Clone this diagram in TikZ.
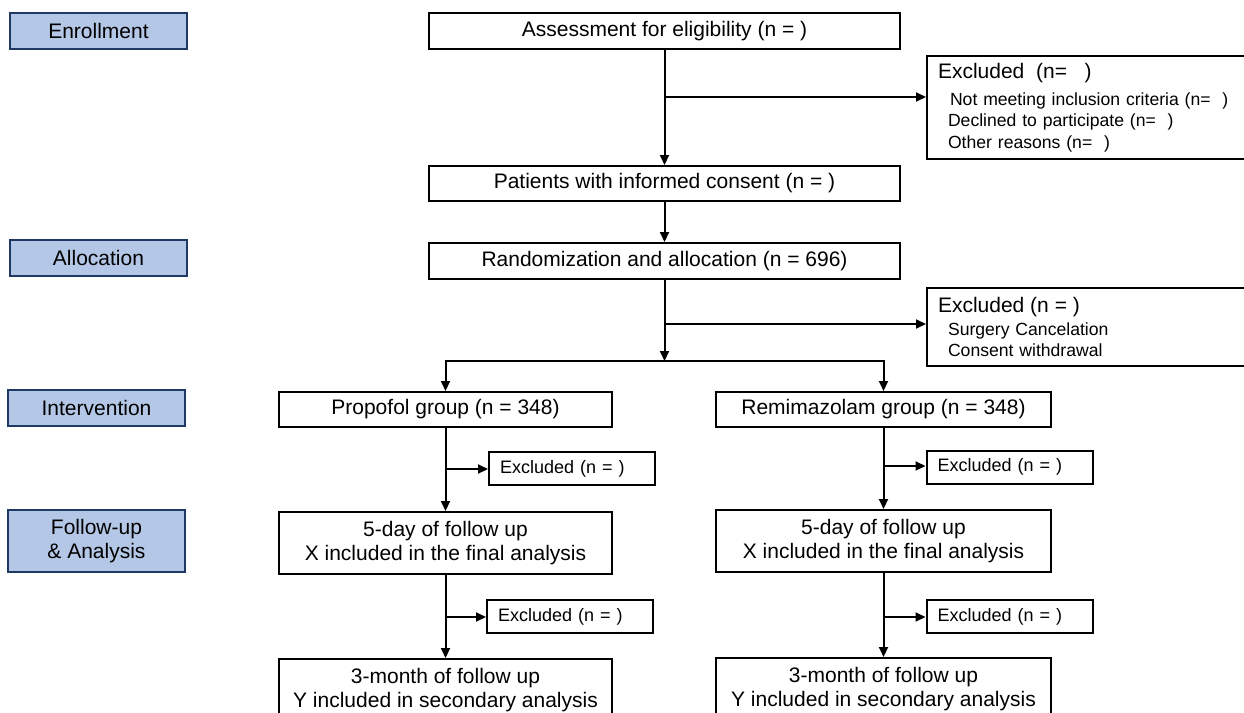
\documentclass[tikz,border=0pt]{standalone}
\usepackage{fontspec}
\setmainfont{Liberation Sans}
\usetikzlibrary{positioning, arrows.meta}

\definecolor{stagefill}{HTML}{B4C7E7}
\definecolor{stageline}{HTML}{203864}

\begin{document}
\begin{tikzpicture}[x=1pt, y=-1pt, >={Triangle[length=10pt,width=9pt]},
  font=\fontsize{21}{24}\selectfont, line width=2pt,
  box/.style={draw, inner sep=0pt, align=center},
  stage/.style={draw=stageline, fill=stagefill, line width=2.4pt, minimum width=177pt, inner sep=0pt, align=center},
  exbox/.style={draw, inner xsep=11pt, inner ysep=0pt, text width=144pt, align=left,
    minimum height=33pt, font=\fontsize{18}{21}\selectfont}]
  \useasboundingbox (0,0) rectangle (1244,712);

  % stages on the left
  \node[stage, minimum height=36pt] (enroll) at (98.5,31) {Enrollment};
  \node[stage, minimum height=36pt] (alloc) at (98.5,258) {Allocation};
  \node[stage, minimum height=36pt] (interv) at (96.5,408) {Intervention};
  \node[stage, minimum height=62pt] (follow) at (96.5,541) {Follow-up\\\& Analysis};

  % main column
  \node[box, minimum width=471pt, minimum height=36pt] (assess) at (664.5,31) {Assessment for eligibility (n = )};
  \node[box, minimum width=471pt, minimum height=35pt, below=115pt of assess] (consent) {Patients with informed consent (n = )};
  \node[box, minimum width=471pt, minimum height=36pt, below=40pt of consent] (rand) {Randomization and allocation (n = 696)};

  \node[draw, anchor=north west, minimum width=330pt, minimum height=103pt, inner xsep=11pt, inner ysep=0pt,
    text width=308pt, align=left, font=\fontsize{17.6}{21.5}\selectfont] (excl1) at (926,55)
    {{\fontsize{21}{24}\selectfont Excluded\ \ (n=\ \ \ )}\\[5.5pt]
     \hspace*{12pt}Not meeting inclusion criteria (n=\ \ )\\
     \hspace*{10pt}Declined to participate (n=\ \ )\\
     \hspace*{10pt}Other reasons (n=\ \ )};
  \node[draw, anchor=north west, minimum width=330pt, minimum height=78pt, inner xsep=11pt, inner ysep=0pt,
    text width=308pt, align=left, font=\fontsize{17.6}{21.5}\selectfont] (excl2) at (926,287)
    {{\fontsize{21}{24}\selectfont Excluded (n = )}\\[1.5pt]
     \hspace*{10pt}Surgery Cancelation\\
     \hspace*{10pt}Consent withdrawal};

  % two arms
  \node[box, minimum width=333pt, minimum height=35pt] (prop) at (445.5,409.5) {Propofol group (n = 348)};
  \node[box, minimum width=335pt, minimum height=35pt] (remi) at (883.5,409.5) {Remimazolam group (n = 348)};

  \node[box, minimum width=333pt, minimum height=62pt, below=83pt of prop] (fiveL) {5-day of follow up\\X included in the final analysis};
  \node[box, minimum width=333pt, minimum height=62pt, below=83pt of fiveL] (threeL) {3-month of follow up\\Y included in secondary analysis};
  \node[box, minimum width=335pt, minimum height=62pt, below=81pt of remi] (fiveR) {5-day of follow up\\X included in the final analysis};
  \node[box, minimum width=335pt, minimum height=62pt, below=84pt of fiveR] (threeR) {3-month of follow up\\Y included in secondary analysis};

  \node[exbox] (exL1) at (572,468.5) {Excluded (n = )};
  \node[exbox] (exR1) at (1009.5,467) {Excluded (n = )};
  \node[exbox] (exL2) at (570,616.5) {Excluded (n = )};
  \node[exbox] (exR2) at (1009.5,616.5) {Excluded (n = )};

  % connectors
  \coordinate (b1) at (664.5,97);
  \coordinate (b2) at (664.5,324);
  \coordinate (split) at (664.5,361);
  \coordinate (b3) at (445.5,469);
  \coordinate (b4) at (883.5,466);
  \coordinate (b5) at (445.5,617);
  \coordinate (b6) at (883.5,617);

  \draw[->] (assess) -- (consent);
  \draw[->] (b1) -- (b1 -| excl1.west);
  \draw[->] (consent) -- (rand);
  \draw[->] (rand) -- (split);
  \draw[->] (b2) -- (b2 -| excl2.west);
  \draw[->] (split) -| (prop);
  \draw[->] (split) -| (remi);

  \draw[->] (prop) -- (fiveL);
  \draw[->] (b3) -- (b3 -| exL1.west);
  \draw[->] (fiveL) -- (threeL);
  \draw[->] (b5) -- (b5 -| exL2.west);

  \draw[->] (remi) -- (fiveR);
  \draw[->] (b4) -- (b4 -| exR1.west);
  \draw[->] (fiveR) -- (threeR);
  \draw[->] (b6) -- (b6 -| exR2.west);
\end{tikzpicture}
\end{document}
